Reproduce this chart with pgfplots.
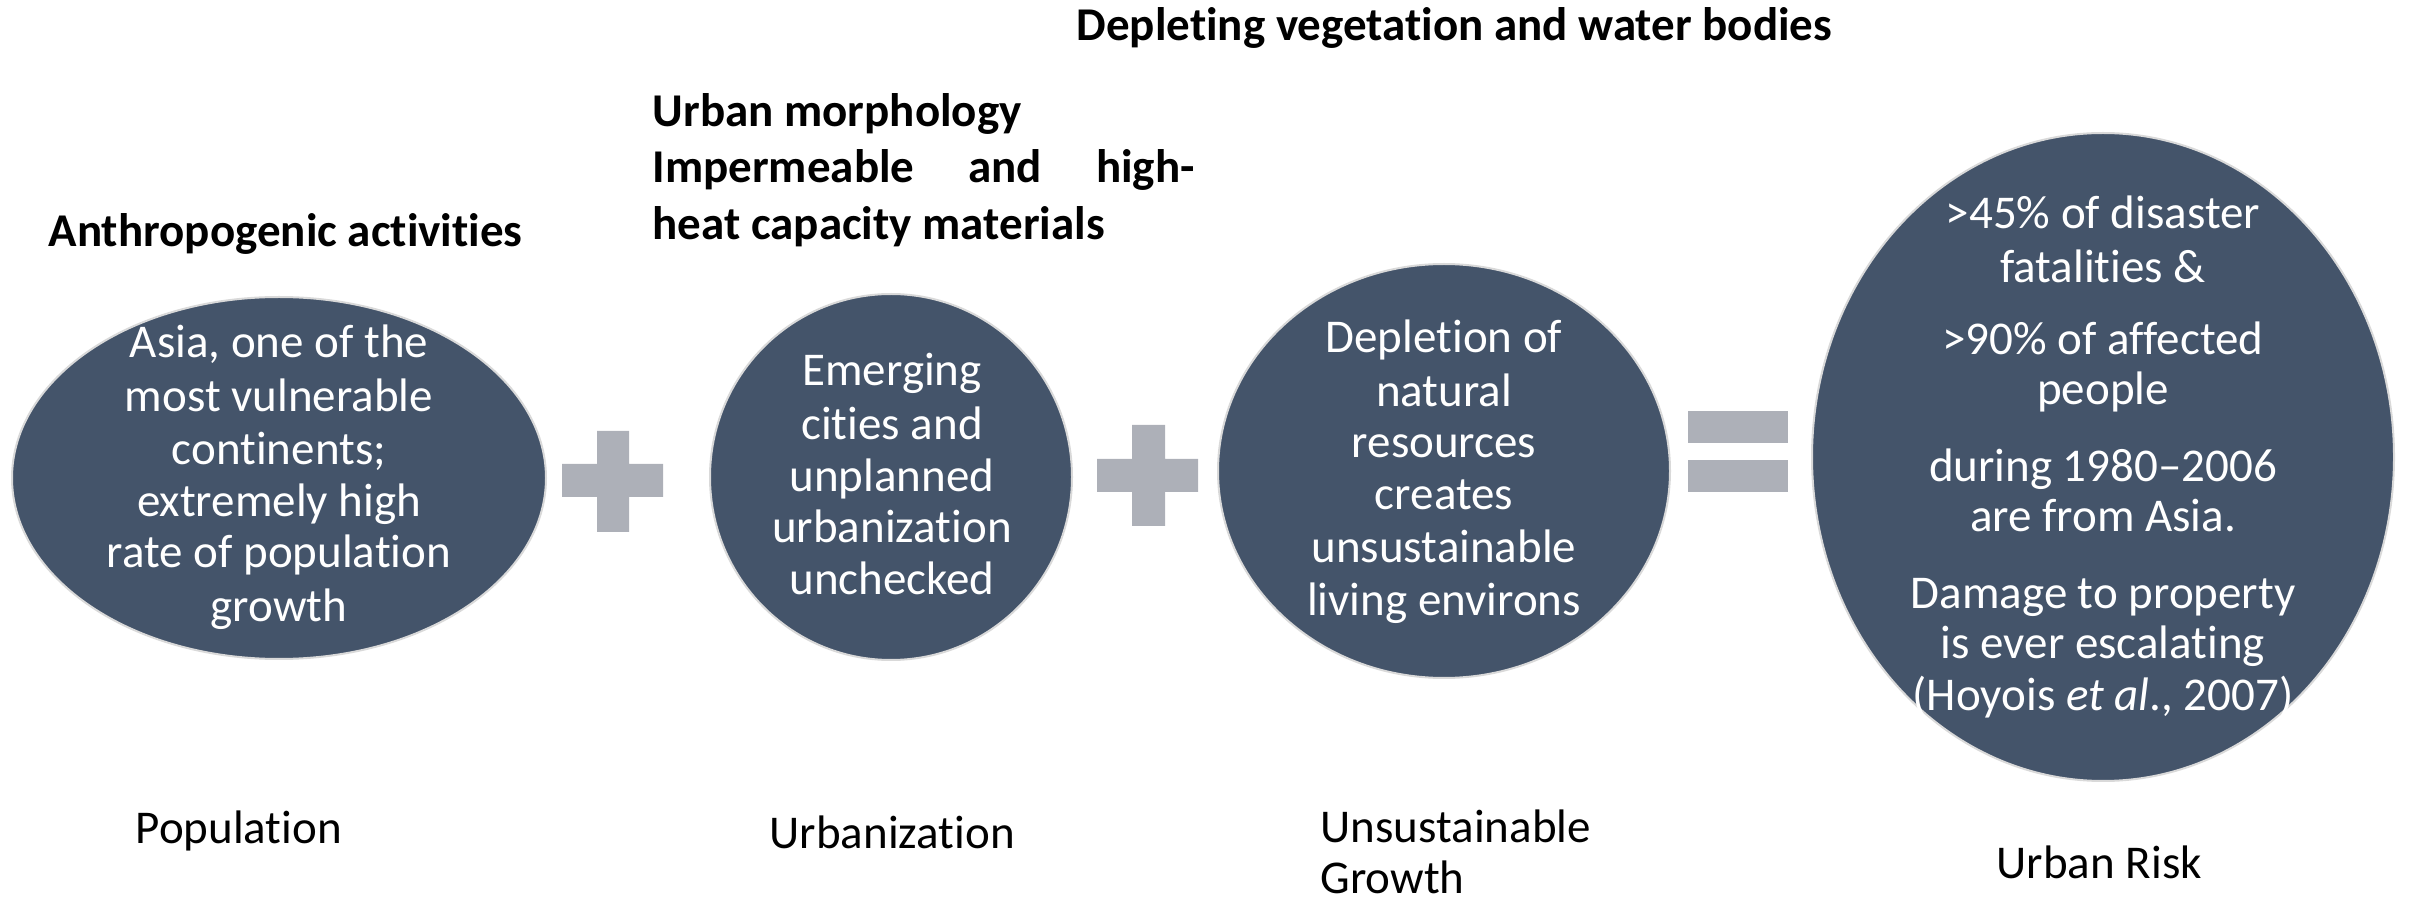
\documentclass[border=0pt]{standalone}
\usepackage{pgfplots}
\pgfplotsset{compat=1.18}
\usepackage{fontspec}
\setmainfont{Carlito}[Ligatures=NoCommon]
\definecolor{ell}{HTML}{44546A}
\definecolor{edge}{HTML}{D9D9D9}
\definecolor{sym}{HTML}{ADB0B8}
\tikzset{
  tx/.style={inner sep=0pt, font=\fontsize{14.1}{16.5}\selectfont},
  wt/.style={tx, text=white, anchor=base},
  bd/.style={inner sep=0pt, font=\bfseries\fontsize{14.1}{16.5}\selectfont, anchor=base west},
}
\begin{document}
\begin{tikzpicture}
\begin{axis}[
  scale only axis, width=723.9pt, height=270.3pt,
  xmin=0, xmax=2413, ymin=0, ymax=901, y dir=reverse,
  hide axis, clip=false,
]
% ellipses (radii: 1 px = 0.3pt)
\filldraw[fill=ell, draw=edge, line width=0.6pt] (axis cs:279,478) ellipse [x radius=80.1pt, y radius=54.3pt];
\filldraw[fill=ell, draw=edge, line width=0.6pt] (axis cs:891,477) ellipse [x radius=54.3pt, y radius=54.9pt];
\filldraw[fill=ell, draw=edge, line width=0.6pt] (axis cs:1444,471) ellipse [x radius=67.8pt, y radius=62.1pt];
\filldraw[fill=ell, draw=edge, line width=0.6pt] (axis cs:2103,457) ellipse [x radius=87.3pt, y radius=97.2pt];
% plus signs
\addplot[fill=sym, draw=none] coordinates {(562,464) (597,464) (597,431) (629,431) (629,464) (663,464) (663,497) (629,497) (629,532) (597,532) (597,497) (562,497)} --cycle;
\addplot[fill=sym, draw=none] coordinates {(1097,459) (1132,459) (1132,425) (1165,425) (1165,459) (1198,459) (1198,492) (1165,492) (1165,526) (1132,526) (1132,492) (1097,492)} --cycle;
% equals
\addplot[fill=sym, draw=none] coordinates {(1688,411) (1788,411) (1788,443) (1688,443)} --cycle;
\addplot[fill=sym, draw=none] coordinates {(1688,460) (1788,460) (1788,492) (1688,492)} --cycle;
% headings
\node[bd] at (axis cs:1076,41) {Depleting vegetation and water bodies};
\node[bd] at (axis cs:652,127) {Urban morphology};
\node[bd] at (axis cs:652,183) {\makebox[162.6pt][l]{Impermeable\hfill and\hfill high-}};
\node[bd] at (axis cs:652,240) {heat capacity materials};
\node[bd] at (axis cs:48,247) {Anthropogenic activities};
% ellipse 1 text
\node[wt] at (axis cs:279,358) {Asia, one of the};
\node[wt] at (axis cs:279,412) {most vulnerable};
\node[wt] at (axis cs:279,465) {continents;};
\node[wt] at (axis cs:279,517) {extremely high};
\node[wt] at (axis cs:279,568) {rate of population};
\node[wt] at (axis cs:279,622) {growth};
% ellipse 2 text
\node[wt] at (axis cs:892,386) {Emerging};
\node[wt] at (axis cs:892,440) {cities and};
\node[wt] at (axis cs:892,492) {unplanned};
\node[wt] at (axis cs:892,543) {urbanization};
\node[wt] at (axis cs:892,595) {unchecked};
% ellipse 3 text
\node[wt] at (axis cs:1444,353) {Depletion of};
\node[wt] at (axis cs:1444,407) {natural};
\node[wt] at (axis cs:1444,458) {resources};
\node[wt] at (axis cs:1444,510) {creates};
\node[wt] at (axis cs:1444,563) {unsustainable};
\node[wt] at (axis cs:1444,615) {living environs};
% ellipse 4 text
\node[wt] at (axis cs:2103,229) {>45\% of disaster};
\node[wt] at (axis cs:2103,283) {fatalities \&};
\node[wt] at (axis cs:2103,355) {>90\% of affected};
\node[wt] at (axis cs:2103,405) {people};
\node[wt] at (axis cs:2103,482) {during 1980--2006};
\node[wt] at (axis cs:2103,532) {are from Asia.};
\node[wt] at (axis cs:2103,608) {Damage to property};
\node[wt] at (axis cs:2103,658) {is ever escalating};
\node[wt] at (axis cs:2103,710) {(Hoyois \textit{et al}., 2007)};
% bottom labels
\node[tx, anchor=base west] at (axis cs:135,843) {Population};
\node[tx, anchor=base west] at (axis cs:769,848) {Urbanization};
\node[tx, anchor=base west] at (axis cs:1320,842) {Unsustainable};
\node[tx, anchor=base west] at (axis cs:1320,893) {Growth};
\node[tx, anchor=base west] at (axis cs:1996,878) {Urban Risk};
\end{axis}
\pgfresetboundingbox
\path[use as bounding box] (current axis.south west) rectangle (current axis.north east);
\end{tikzpicture}
\end{document}
